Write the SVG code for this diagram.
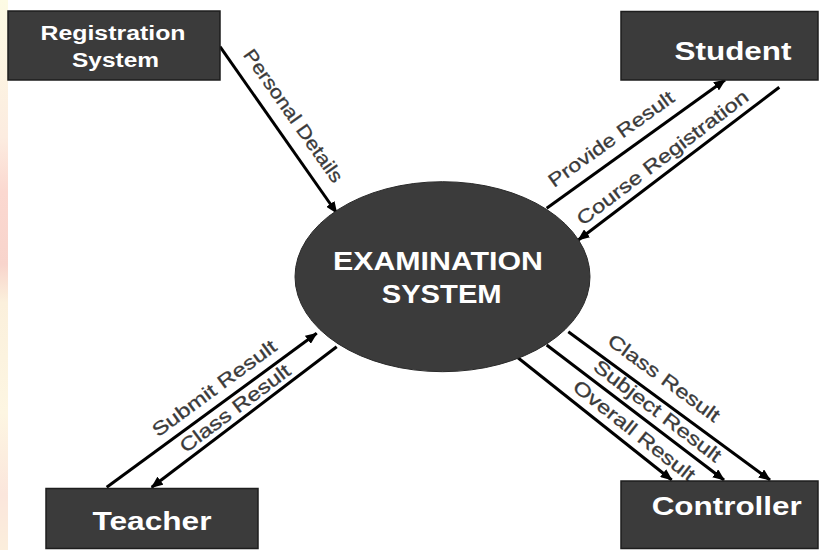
<svg xmlns="http://www.w3.org/2000/svg" width="820" height="550" viewBox="0 0 820 550">
  <defs>
    <linearGradient id="stripe" x1="0" y1="0" x2="0" y2="1">
      <stop offset="0" stop-color="#fdfbe4"/>
      <stop offset="0.25" stop-color="#fcece0"/>
      <stop offset="0.35" stop-color="#fbd8d0"/>
      <stop offset="0.48" stop-color="#f8d4cc"/>
      <stop offset="0.55" stop-color="#fbf0dc"/>
      <stop offset="0.75" stop-color="#fdf6e2"/>
      <stop offset="0.9" stop-color="#fbe6dc"/>
      <stop offset="1" stop-color="#fbeedc"/>
    </linearGradient>
    <marker id="arrow" viewBox="0 0 12 10" refX="11" refY="5" markerWidth="12" markerHeight="10" markerUnits="userSpaceOnUse" orient="auto">
      <path d="M0,0 L12,5 L0,10 z" fill="#000"/>
    </marker>
  </defs>
  <style>
    .box { fill: #3b3b3b; stroke: #1e1e1e; stroke-width: 1.5; }
    .ntext { font-family: "Liberation Sans", Arial, sans-serif; font-weight: bold; fill: #ffffff; text-anchor: middle; }
    .flow { stroke: #000; stroke-width: 3; fill: none; marker-end: url(#arrow); }
    .lbl { font-family: "Liberation Sans", Arial, sans-serif; font-size: 19px; fill: #3a3a3a; stroke: #3a3a3a; stroke-width: 0.3; text-anchor: middle; }
  </style>
  <rect x="0" y="0" width="820" height="550" fill="#ffffff"/>
  <rect x="0" y="0" width="8" height="550" fill="url(#stripe)"/>

  <g id="connectors">
    <line class="flow" x1="220" y1="46.7" x2="336.7" y2="213"/>
    <line class="flow" x1="546.7" y1="208.3" x2="725" y2="80"/>
    <line class="flow" x1="779.3" y1="87.3" x2="578.3" y2="240"/>
    <line class="flow" x1="568.3" y1="331.7" x2="770" y2="480"/>
    <line class="flow" x1="546.7" y1="345" x2="724" y2="480"/>
    <line class="flow" x1="517" y1="357" x2="671.7" y2="480"/>
    <line class="flow" x1="106.7" y1="487.3" x2="316.7" y2="333.3"/>
    <line class="flow" x1="336.7" y1="346.7" x2="151.7" y2="487.3"/>

    <text class="lbl" transform="translate(288,119.5) rotate(54.9)" textLength="158" lengthAdjust="spacingAndGlyphs">Personal Details</text>
    <text class="lbl" transform="translate(614.8,144.3) rotate(-35.7)" textLength="150" lengthAdjust="spacingAndGlyphs">Provide Result</text>
    <text class="lbl" transform="translate(666.4,162.7) rotate(-37.2)" textLength="210" lengthAdjust="spacingAndGlyphs">Course Registration</text>
    <text class="lbl" transform="translate(660.2,383.2) rotate(36.3)" textLength="134" lengthAdjust="spacingAndGlyphs">Class Result</text>
    <text class="lbl" transform="translate(653.6,416) rotate(37.3)" textLength="155" lengthAdjust="spacingAndGlyphs">Subject Result</text>
    <text class="lbl" transform="translate(630.2,435.9) rotate(38.4)" textLength="150" lengthAdjust="spacingAndGlyphs">Overall Result</text>
    <text class="lbl" transform="translate(218,393.5) rotate(-36.3)" textLength="149" lengthAdjust="spacingAndGlyphs">Submit Result</text>
    <text class="lbl" transform="translate(238.8,413.5) rotate(-37)" textLength="133" lengthAdjust="spacingAndGlyphs">Class Result</text>
  </g>

  <g id="registration-system">
    <rect class="box" x="8" y="11" width="212" height="69"/>
    <text class="ntext" x="113" y="40" font-size="20" textLength="145" lengthAdjust="spacingAndGlyphs">Registration</text>
    <text class="ntext" x="115.5" y="67" font-size="20" textLength="87" lengthAdjust="spacingAndGlyphs">System</text>
  </g>

  <g id="student">
    <rect class="box" x="621" y="11.5" width="197" height="68.5"/>
    <text class="ntext" x="733" y="60" font-size="25" textLength="117" lengthAdjust="spacingAndGlyphs">Student</text>
  </g>

  <g id="examination-system">
    <ellipse cx="442.5" cy="276.7" rx="147.5" ry="95" fill="#3b3b3b" stroke="#2a2a2a" stroke-width="1"/>
    <text class="ntext" x="438" y="270" font-size="25" textLength="210" lengthAdjust="spacingAndGlyphs">EXAMINATION</text>
    <text class="ntext" x="441.7" y="303.3" font-size="25" textLength="120" lengthAdjust="spacingAndGlyphs">SYSTEM</text>
  </g>

  <g id="teacher">
    <rect class="box" x="46" y="488.5" width="212" height="60"/>
    <text class="ntext" x="152" y="530" font-size="25" textLength="119" lengthAdjust="spacingAndGlyphs">Teacher</text>
  </g>

  <g id="controller">
    <rect class="box" x="621" y="481" width="197" height="67.5"/>
    <text class="ntext" x="726.7" y="515" font-size="25" textLength="150" lengthAdjust="spacingAndGlyphs">Controller</text>
  </g>
</svg>
